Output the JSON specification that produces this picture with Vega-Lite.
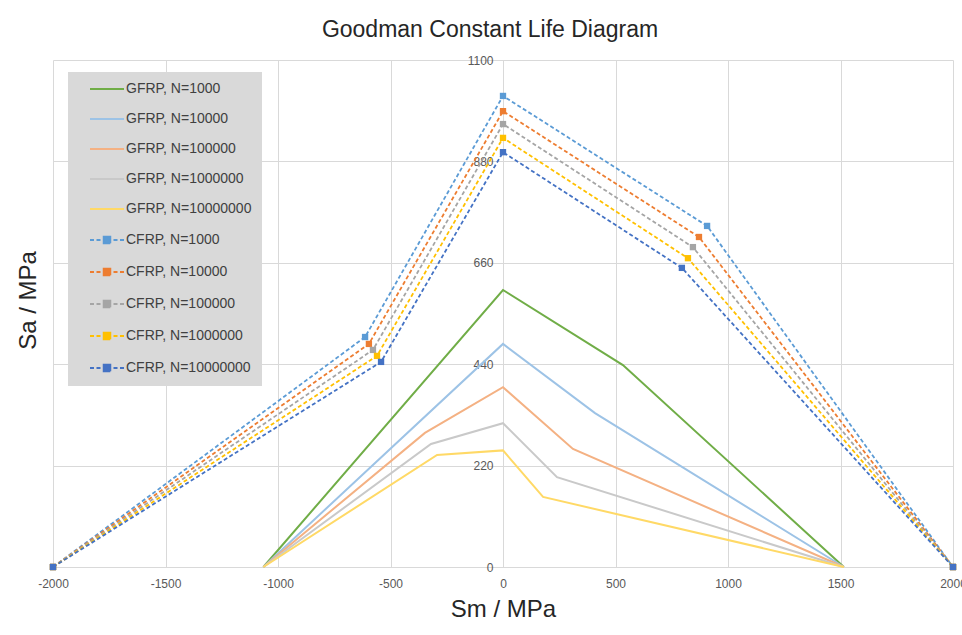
{
  "$schema": "https://vega.github.io/schema/vega-lite/v6.json",
  "width": 900,
  "height": 507,
  "autosize": {"type": "none"},
  "padding": {"left": 53, "top": 60, "right": 9, "bottom": 68},
  "background": "white",
  "title": {"text": "Goodman Constant Life Diagram", "font": "Liberation Sans", "fontSize": 23, "fontWeight": "normal", "color": "#262626", "anchor": "middle", "dx": -13, "offset": 12},
  "config": {"view": {"stroke": null}},
  "data": {"values": [
    {"series": "GFRP, N=1000", "material": "GFRP", "sm": -1065, "sa": 0},
    {"series": "GFRP, N=1000", "material": "GFRP", "sm": 0, "sa": 601},
    {"series": "GFRP, N=1000", "material": "GFRP", "sm": 533, "sa": 438},
    {"series": "GFRP, N=1000", "material": "GFRP", "sm": 1515, "sa": 0},
    {"series": "GFRP, N=10000", "material": "GFRP", "sm": -1065, "sa": 0},
    {"series": "GFRP, N=10000", "material": "GFRP", "sm": 0, "sa": 484},
    {"series": "GFRP, N=10000", "material": "GFRP", "sm": 409, "sa": 334},
    {"series": "GFRP, N=10000", "material": "GFRP", "sm": 1515, "sa": 0},
    {"series": "GFRP, N=100000", "material": "GFRP", "sm": -1065, "sa": 0},
    {"series": "GFRP, N=100000", "material": "GFRP", "sm": -347, "sa": 291},
    {"series": "GFRP, N=100000", "material": "GFRP", "sm": 0, "sa": 390},
    {"series": "GFRP, N=100000", "material": "GFRP", "sm": 311, "sa": 256},
    {"series": "GFRP, N=100000", "material": "GFRP", "sm": 1515, "sa": 0},
    {"series": "GFRP, N=1000000", "material": "GFRP", "sm": -1065, "sa": 0},
    {"series": "GFRP, N=1000000", "material": "GFRP", "sm": -320, "sa": 267},
    {"series": "GFRP, N=1000000", "material": "GFRP", "sm": 0, "sa": 312},
    {"series": "GFRP, N=1000000", "material": "GFRP", "sm": 240, "sa": 195},
    {"series": "GFRP, N=1000000", "material": "GFRP", "sm": 1515, "sa": 0},
    {"series": "GFRP, N=10000000", "material": "GFRP", "sm": -1065, "sa": 0},
    {"series": "GFRP, N=10000000", "material": "GFRP", "sm": -293, "sa": 243},
    {"series": "GFRP, N=10000000", "material": "GFRP", "sm": 0, "sa": 253},
    {"series": "GFRP, N=10000000", "material": "GFRP", "sm": 178, "sa": 152},
    {"series": "GFRP, N=10000000", "material": "GFRP", "sm": 1515, "sa": 0},
    {"series": "CFRP, N=1000", "material": "CFRP", "sm": -2000, "sa": 0},
    {"series": "CFRP, N=1000", "material": "CFRP", "sm": -613, "sa": 499},
    {"series": "CFRP, N=1000", "material": "CFRP", "sm": 0, "sa": 1022},
    {"series": "CFRP, N=1000", "material": "CFRP", "sm": 907, "sa": 740},
    {"series": "CFRP, N=1000", "material": "CFRP", "sm": 2000, "sa": 0},
    {"series": "CFRP, N=10000", "material": "CFRP", "sm": -2000, "sa": 0},
    {"series": "CFRP, N=10000", "material": "CFRP", "sm": -596, "sa": 484},
    {"series": "CFRP, N=10000", "material": "CFRP", "sm": 0, "sa": 989},
    {"series": "CFRP, N=10000", "material": "CFRP", "sm": 871, "sa": 716},
    {"series": "CFRP, N=10000", "material": "CFRP", "sm": 2000, "sa": 0},
    {"series": "CFRP, N=100000", "material": "CFRP", "sm": -2000, "sa": 0},
    {"series": "CFRP, N=100000", "material": "CFRP", "sm": -578, "sa": 471},
    {"series": "CFRP, N=100000", "material": "CFRP", "sm": 0, "sa": 961},
    {"series": "CFRP, N=100000", "material": "CFRP", "sm": 844, "sa": 694},
    {"series": "CFRP, N=100000", "material": "CFRP", "sm": 2000, "sa": 0},
    {"series": "CFRP, N=1000000", "material": "CFRP", "sm": -2000, "sa": 0},
    {"series": "CFRP, N=1000000", "material": "CFRP", "sm": -560, "sa": 458},
    {"series": "CFRP, N=1000000", "material": "CFRP", "sm": 0, "sa": 931},
    {"series": "CFRP, N=1000000", "material": "CFRP", "sm": 822, "sa": 670},
    {"series": "CFRP, N=1000000", "material": "CFRP", "sm": 2000, "sa": 0},
    {"series": "CFRP, N=10000000", "material": "CFRP", "sm": -2000, "sa": 0},
    {"series": "CFRP, N=10000000", "material": "CFRP", "sm": -542, "sa": 445},
    {"series": "CFRP, N=10000000", "material": "CFRP", "sm": 0, "sa": 900},
    {"series": "CFRP, N=10000000", "material": "CFRP", "sm": 795, "sa": 649},
    {"series": "CFRP, N=10000000", "material": "CFRP", "sm": 2000, "sa": 0}
  ]},
  "encoding": {
    "x": {"field": "sm", "type": "quantitative",
      "scale": {"domain": [-2000, 2000], "nice": false, "zero": false},
      "axis": {"title": "Sm / MPa", "values": [-2000, -1500, -1000, -500, 0, 500, 1000, 1500, 2000],
        "labelExpr": "datum.value + ''",
        "domain": false, "ticks": false, "labelFlush": false, "labelOverlap": false, "labelPadding": 11,
        "labelFont": "Liberation Sans", "labelFontSize": 12, "labelColor": "#595959",
        "gridColor": "#d9d9d9", "gridWidth": 1,
        "titleFont": "Liberation Sans", "titleFontSize": 24, "titleFontWeight": "normal", "titleColor": "#262626", "titlePadding": 8}},
    "y": {"field": "sa", "type": "quantitative",
      "scale": {"domain": [0, 1100], "nice": false},
      "axis": {"title": "Sa / MPa", "orient": "left", "offset": -450, "values": [0, 220, 440, 660, 880, 1100],
        "labelExpr": "datum.value + ''",
        "domain": false, "ticks": false, "labelPadding": 10,
        "labelFont": "Liberation Sans", "labelFontSize": 12, "labelColor": "#595959",
        "gridColor": "#d9d9d9", "gridWidth": 1,
        "titleFont": "Liberation Sans", "titleFontSize": 24, "titleFontWeight": "normal", "titleColor": "#262626",
        "titleX": -475, "titleY": 240, "titleAngle": -90, "titleAlign": "center", "titleBaseline": "middle"}},
    "color": {"field": "series", "type": "nominal",
      "scale": {
        "domain": ["GFRP, N=1000", "GFRP, N=10000", "GFRP, N=100000", "GFRP, N=1000000", "GFRP, N=10000000", "CFRP, N=1000", "CFRP, N=10000", "CFRP, N=100000", "CFRP, N=1000000", "CFRP, N=10000000"],
        "range": ["#70ad47", "#9dc3e6", "#f4b183", "#c9c9c9", "#ffd966", "#5b9bd5", "#ed7d31", "#a5a5a5", "#ffc000", "#4472c4"]},
      "legend": {"orient": "none", "legendX": 15, "legendY": 12, "title": null,
        "fillColor": "#d9d9d9", "padding": 10, "symbolSize": 100, "symbolStrokeWidth": 2,
        "labelFont": "Liberation Sans", "labelFontSize": 14, "labelColor": "#404040",
        "labelOffset": 34, "rowPadding": 16, "labelLimit": 300,
        "encode": {"symbols": {"update": {
          "shape": {"signal": "indexof(datum.value,'CFRP')>=0 ? 'M1,0H1.8M2.3,0H3.1M3.75,-0.65H5.05V0.65H3.75ZM5.7,0H6.5M7,0H7.8' : 'M1,0H7.8'"},
          "fill": {"signal": "indexof(datum.value,'CFRP')>=0 ? scale('color', datum.value) : 'transparent'"},
          "strokeDash": {"value": [1, 0]},
          "opacity": {"value": 1}
        }}}}}
  },
  "layer": [
    {"transform": [{"filter": "datum.material === 'GFRP'"}],
     "mark": {"type": "line", "strokeWidth": 2}},
    {"transform": [{"filter": "datum.material === 'CFRP'"}],
     "mark": {"type": "line", "strokeWidth": 1.8, "strokeDash": [4, 2.5]}},
    {"transform": [{"filter": "datum.material === 'CFRP'"}],
     "mark": {"type": "point", "shape": "square", "size": 40, "filled": true, "opacity": 1}}
  ]
}
